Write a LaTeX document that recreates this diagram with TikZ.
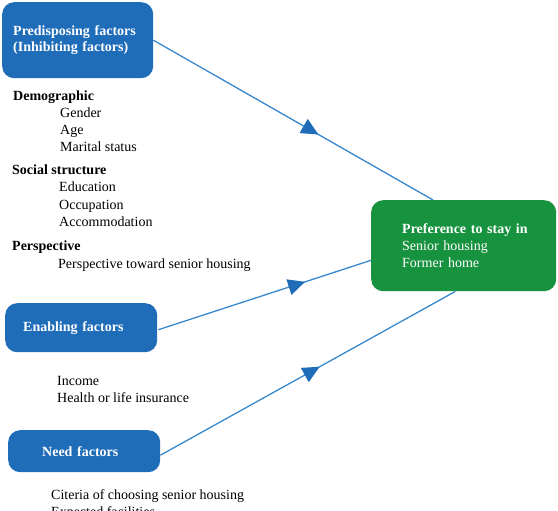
\documentclass[tikz,border=0pt]{standalone}
\usepackage{fontspec}
\setmainfont{Liberation Serif}
\usetikzlibrary{arrows.meta,decorations.markings,calc}
\definecolor{boxblue}{HTML}{1F6CB8}
\definecolor{boxgreen}{HTML}{17923F}
\definecolor{linkblue}{HTML}{3A88CC}
\begin{document}
\begin{tikzpicture}[x=1pt,y=-1pt,
  txt/.style={font=\fontsize{14}{17}\selectfont},
  box/.style={rounded corners=12pt, fill=boxblue, text=white,
    font=\fontsize{14}{16}\selectfont\bfseries, align=left, inner sep=0pt, anchor=north west},
  lbl/.style={anchor=base west, inner sep=0pt, txt},
  hd/.style={lbl, font=\fontsize{14}{17}\selectfont\bfseries},
  link/.style={draw=linkblue, line width=1.3pt,
    decoration={markings, mark=at position #1 with {\arrow{Triangle[length=17pt,width=16pt,color=boxblue]}}},
    postaction={decorate}}
]
\fill[white] (0,0) rectangle (558,511);
\useasboundingbox (0,0) rectangle (558,511);

% boxes
\node[box, minimum width=151pt, minimum height=76pt, text width=129pt] (pred) at (2,2)
  {Predisposing factors\\(Inhibiting factors)};
\node[box, minimum width=152pt, minimum height=49pt, text width=116pt] (enab) at (5,303)
  {Enabling factors};
\node[box, minimum width=152pt, minimum height=42pt, text width=84pt] (need) at (8,430)
  {Need factors};
\node[box, fill=boxgreen, font=\fontsize{14}{17}\selectfont, minimum width=185pt, minimum height=91pt, text width=123pt] (green) at (371,200)
  {\mbox{\textbf{Preference to stay in}}\\Senior housing\\Former home};

% texts
\node[hd]  (t1)  at (13,101) {Demographic};
\node[lbl] (t2)  at (60,118) {Gender};
\node[lbl] (t3)  at (60,135) {Age};
\node[lbl] (t4)  at (60,152) {Marital status};
\node[hd]  (t5)  at (12,175) {Social structure};
\node[lbl] (t6)  at (59,192) {Education};
\node[lbl] (t7)  at (59,209) {Occupation};
\node[lbl] (t8)  at (59,226) {Accommodation};
\node[hd]  (t9)  at (12,251) {Perspective};
\node[lbl] (t10) at (58,269) {Perspective toward senior housing};
\node[lbl] (t11) at (57,385) {Income};
\node[lbl] (t12) at (57,402) {Health or life insurance};
\node[lbl] (t13) at (51,499) {Citeria of choosing senior housing};
\node[lbl] (t14) at (51,516) {Expected facilities};

% connectors
\coordinate (g1) at ($(green.north west)!0.335!(green.north east)$);
\coordinate (g2) at ($(green.north west)!0.66!(green.south west)$);
\coordinate (g3) at ($(green.south west)!0.455!(green.south east)$);
\coordinate (n1) at ($(need.east)+(0,4)$);
\coordinate (e1) at ($(enab.east)+(1,2)$);
\draw[link=0.59] (pred.east) -- (g1);
\draw[link=0.69] (e1) -- (g2);
\draw[link=0.54] (n1) -- (g3);
\end{tikzpicture}
\end{document}
